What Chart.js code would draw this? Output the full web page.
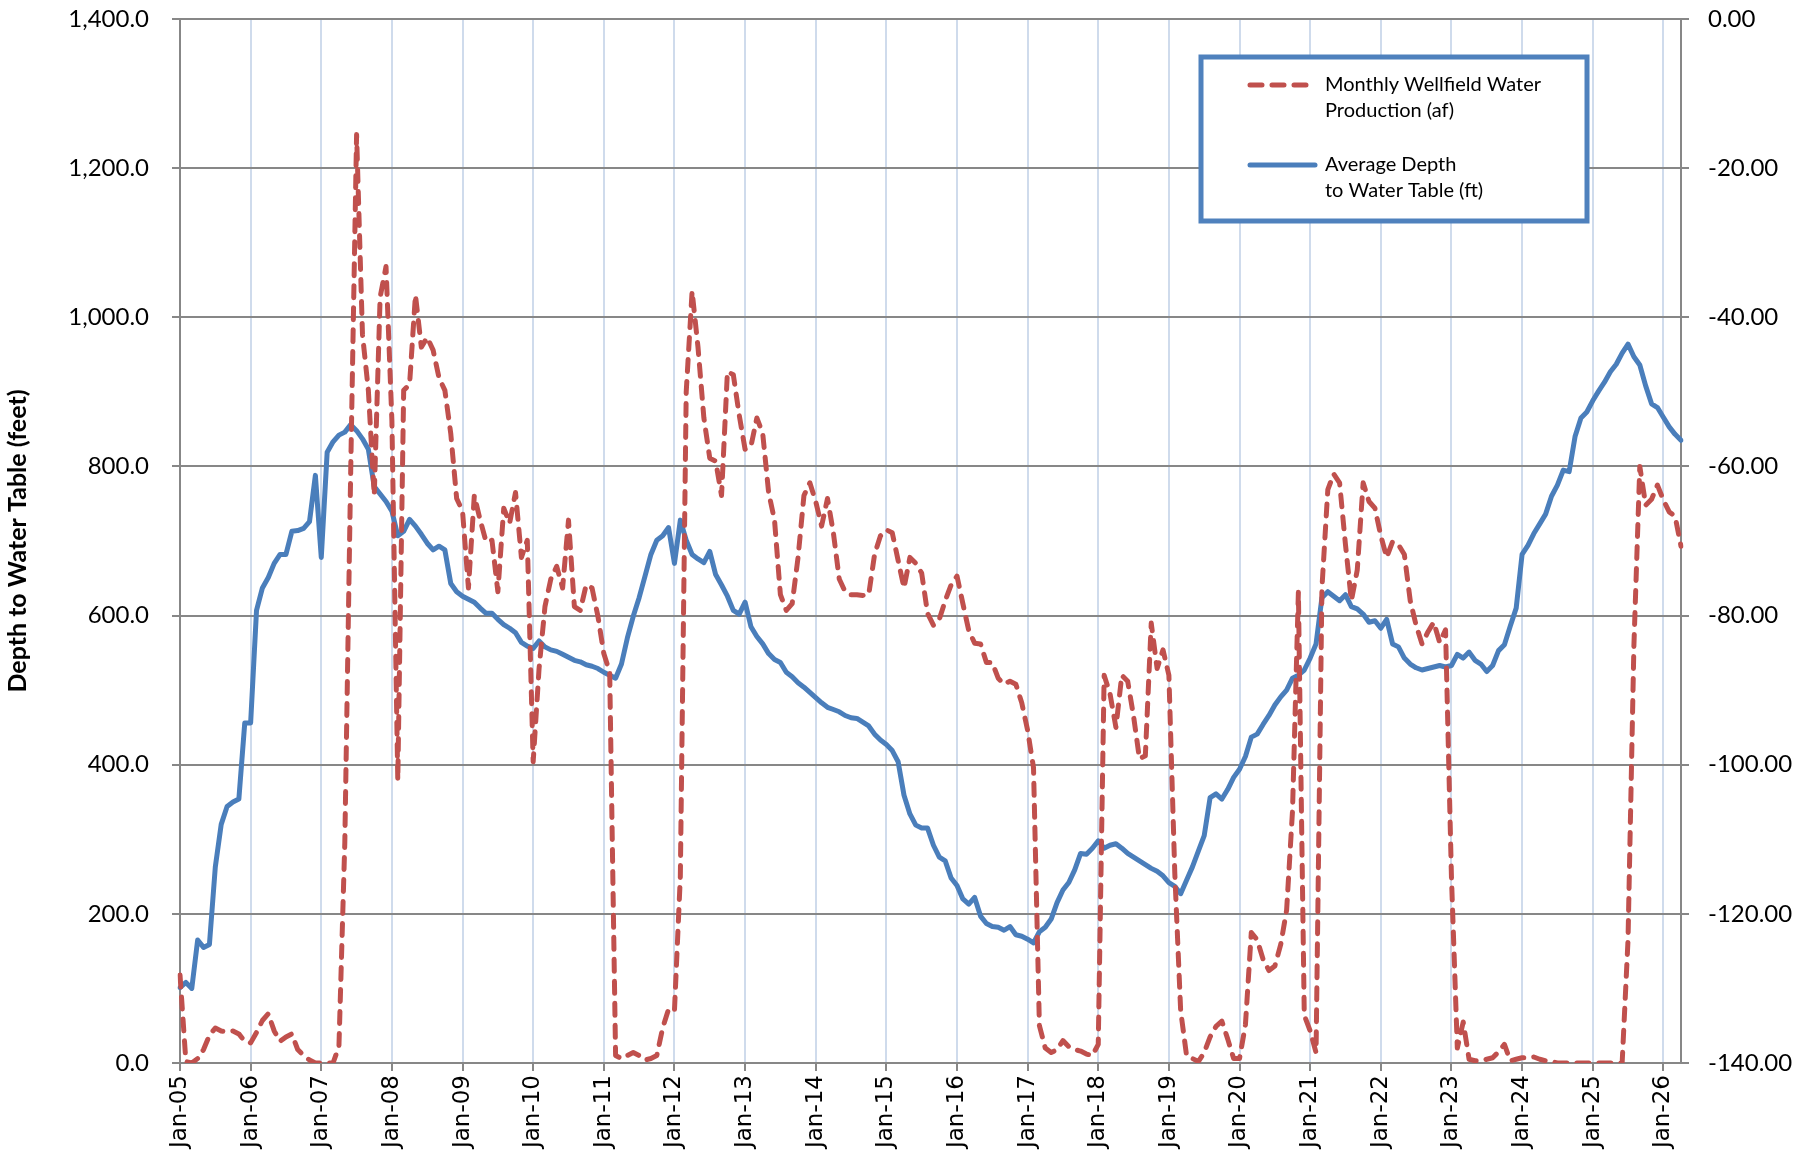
<!DOCTYPE html>
<html>
<head>
<meta charset="utf-8">
<title>Wellfield Production and Depth to Water Table</title>
<script src="https://cdn.jsdelivr.net/npm/chart.js@4.4.1/dist/chart.umd.min.js"></script>
<style>
    html, body { margin: 0; padding: 0; background: #fff; }
    #wrap { width: 1814px; height: 1155px; }
</style>
</head>
<body>
<div id="wrap"><canvas id="wellChart" width="1814" height="1155"></canvas></div>
<script>
const months = ['Jan', 'Feb', 'Mar', 'Apr', 'May', 'Jun', 'Jul', 'Aug', 'Sep', 'Oct', 'Nov', 'Dec'];
const years = ['05', '06', '07', '08', '09', '10', '11', '12', '13', '14', '15',
               '16', '17', '18', '19', '20', '21', '22', '23', '24', '25', '26'];
const lastCategory = 'Apr-26';

// monthly production (af), one row per year
const production = [
    118, 2, 0, 6, 18, 37, 47, 43, 42, 43, 39, 29,            // 2005
    27, 41, 57, 66, 43, 29, 35, 39, 18, 10, 4, 0,            // 2006
    0, 0, 0, 22, 296, 794, 1245, 977, 902, 761, 1027, 1068,  // 2007
    861, 379, 902, 910, 1030, 960, 973, 956, 919, 902, 844, 757,
    740, 637, 761, 728, 699, 701, 632, 744, 724, 765, 678, 701,
    404, 529, 612, 649, 666, 637, 728, 612, 607, 641, 637, 599, // 2010
    549, 524, 10, 6, 10, 14, 10, 4, 6, 10, 47, 72,
    70, 250, 900, 1035, 960, 865, 811, 807, 761, 927, 923, 869,
    823, 827, 865, 844, 765, 728, 628, 607, 616, 678, 761, 778,
    753, 720, 757, 711, 649, 632, 628, 628, 627, 628, 682, 707,
    715, 711, 674, 637, 678, 670, 657, 603, 587, 595, 620, 641, // 2015
    653, 616, 580, 563, 562, 537, 537, 516, 508, 512, 508, 483,
    446, 396, 50, 20, 14, 18, 30, 22, 18, 16, 12, 10,
    25, 520, 495, 450, 520, 512, 465, 408, 412, 590, 529, 554,
    520, 255, 70, 10, 6, 2, 14, 35, 49, 56, 32, 6,
    6, 51, 175, 165, 139, 124, 130, 159, 205, 338, 632, 64,     // 2020
    43, 14, 637, 769, 790, 778, 695, 620, 661, 778, 753, 744,
    707, 678, 699, 695, 682, 620, 587, 562, 578, 591, 564, 581,
    250, 20, 55, 5, 3, 3, 5, 7, 15, 25, 3, 5,
    7, 7, 8, 5, 3, 2, 0, 0, 0, 0, 0, 0,
    0, 0, 0, 0, 0, 0, 165, 560, 800, 748, 756, 775,           // 2025
    755, 739, 733, 693
];

// average depth to water table (ft)
const depth = [
    -129.9, -129.2, -130.0, -123.5, -124.5, -124.1, -113.7, -108.0, -105.6, -105.0, -104.6, -94.4, // 2005
    -94.4, -79.3, -76.3, -74.9, -73.0, -71.8, -71.8, -68.7, -68.6, -68.3, -67.4, -61.2,
    -72.2, -58.1, -56.7, -55.8, -55.4, -54.4, -55.2, -56.3, -57.7, -62.7, -63.7, -64.7,
    -66.0, -69.3, -68.7, -67.1, -68.0, -69.1, -70.3, -71.2, -70.7, -71.2, -75.7, -76.8,
    -77.4, -77.8, -78.2, -79.0, -79.7, -79.7, -80.5, -81.2, -81.7, -82.3, -83.6, -84.1,
    -84.4, -83.4, -84.2, -84.6, -84.8, -85.2, -85.6, -86.0, -86.2, -86.6, -86.8, -87.1,     // 2010
    -87.6, -88.0, -88.4, -86.5, -83.0, -80.1, -77.6, -74.7, -71.8, -69.9, -69.3, -68.2,
    -73.0, -67.2, -69.9, -71.8, -72.4, -72.9, -71.4, -74.5, -75.9, -77.4, -79.3, -79.8,
    -78.2, -81.5, -82.8, -83.8, -85.1, -85.9, -86.3, -87.6, -88.2, -89.0, -89.6, -90.3,
    -91.0, -91.7, -92.3, -92.6, -92.9, -93.4, -93.7, -93.8, -94.3, -94.8, -95.9, -96.7,
    -97.3, -98.1, -99.6, -104.1, -106.6, -108.1, -108.5, -108.5, -110.8, -112.4, -112.9, -115.2, // 2015
    -116.2, -118.0, -118.7, -117.8, -120.3, -121.3, -121.7, -121.8, -122.2, -121.7, -122.8, -123.0,
    -123.4, -123.9, -122.4, -121.8, -120.7, -118.5, -116.8, -115.8, -114.1, -111.9, -112.0, -111.2,
    -110.2, -111.2, -110.8, -110.6, -111.2, -111.9, -112.4, -112.9, -113.4, -113.9, -114.3, -114.9,
    -115.8, -116.3, -117.3, -115.5, -113.7, -111.6, -109.5, -104.4, -103.9, -104.6, -103.3, -101.7,
    -100.6, -98.9, -96.3, -95.9, -94.6, -93.4, -92.0, -90.9, -90.0, -88.4, -88.0, -87.3,    // 2020
    -85.7, -83.8, -77.6, -76.8, -77.4, -78.0, -77.2, -78.8, -79.1, -79.8, -80.9, -80.7,
    -81.7, -80.5, -83.8, -84.2, -85.7, -86.5, -87.0, -87.3, -87.1, -86.9, -86.7, -86.9,
    -86.7, -85.2, -85.7, -84.9, -86.0, -86.5, -87.5, -86.7, -84.7, -83.9, -81.4, -79.0,
    -71.8, -70.6, -69.0, -67.7, -66.4, -64.0, -62.5, -60.5, -60.7, -56.0, -53.5, -52.7,
    -51.2, -49.9, -48.7, -47.3, -46.3, -44.8, -43.6, -45.3, -46.4, -49.2, -51.6, -52.1,     // 2025
    -53.4, -54.7, -55.7, -56.5
];

const legendLines = [
    ['Monthly Wellfield Water', 'Production (af)'],
    ['Average Depth', 'to Water Table (ft)']
];

// month categories Jan-05 ... Apr-26
const categories = [];
outer:
for (const yy of years) {
    for (const mm of months) {
        categories.push(mm + '-' + yy);
        if (mm + '-' + yy === lastCategory) break outer;
    }
}

const axisGray = '#878787';
const redLine = '#c0504d';
const blueLine = '#4a7ebb';

// legend box drawn inside the plot like the Excel one
const boxLegend = {
    id: 'boxLegend',
    afterDatasetsDraw(chart) {
        const ctx = chart.ctx;
        const bx = 1201, by = 57, bw = 386, bh = 164;
        ctx.save();
        ctx.fillStyle = '#fff';
        ctx.fillRect(bx, by, bw, bh);
        ctx.lineWidth = 5;
        ctx.strokeStyle = '#4f81bd';
        ctx.strokeRect(bx, by, bw, bh);

        chart.data.datasets.forEach((ds, i) => {
            const ly = by + 28 + i * 80;
            ctx.beginPath();
            ctx.setLineDash(ds.borderDash || []);
            ctx.lineCap = 'round';
            ctx.lineWidth = ds.borderWidth;
            ctx.strokeStyle = ds.borderColor;
            ctx.moveTo(bx + 49, ly);
            ctx.lineTo(bx + 114, ly);
            ctx.stroke();
            ctx.setLineDash([]);

            ctx.fillStyle = '#000';
            ctx.font = '20px Lato';
            ctx.textBaseline = 'middle';
            ctx.textAlign = 'left';
            legendLines[i].forEach((t, k) => ctx.fillText(t, bx + 124, ly + k * 26));
        });
        ctx.restore();
    }
};

const ctx = document.getElementById('wellChart').getContext('2d');

new Chart(ctx, {
    type: 'line',
    data: {
        labels: categories,
        datasets: [{
            label: 'Monthly Wellfield Water Production (af)',
            data: production,
            yAxisID: 'y',
            borderColor: redLine,
            borderWidth: 5,
            borderDash: [12, 10],
            borderCapStyle: 'round',
            borderJoinStyle: 'round',
            pointRadius: 0,
            tension: 0,
            fill: false,
        }, {
            label: 'Average Depth to Water Table (ft)',
            data: depth,
            yAxisID: 'y1',
            borderColor: blueLine,
            borderWidth: 5,
            borderCapStyle: 'round',
            borderJoinStyle: 'round',
            pointRadius: 0,
            tension: 0,
            fill: false,
        }]
    },
    options: {
        responsive: false,
        animation: false,
        layout: {
            padding: { top: 19, right: 0, bottom: 0, left: 0 }
        },
        plugins: {
            legend: { display: false },
            tooltip: { enabled: false }
        },
        scales: {
            x: {
                type: 'category',
                offset: false,
                grid: {
                    color: '#cfdbec',
                    lineWidth: 2,
                    tickLength: 8,
                    tickColor: axisGray
                },
                border: { color: axisGray, width: 2 },
                ticks: {
                    autoSkip: false,
                    minRotation: 90,
                    maxRotation: 90,
                    padding: 4,
                    color: '#000',
                    font: { family: 'DejaVu Sans', size: 23 },
                    callback: function (value, index) {
                        // only January gets a label and a grid line
                        return index % 12 === 0 ? this.getLabelForValue(value) : null;
                    }
                },
                afterFit: scale => { scale.height = 92; }
            },
            y: {
                position: 'left',
                min: 0,
                max: 1400,
                grid: { color: axisGray, lineWidth: 2, tickLength: 8 },
                border: { color: axisGray, width: 2 },
                ticks: {
                    stepSize: 200,
                    padding: 23,
                    color: '#000',
                    font: { family: 'Lato', size: 24 },
                    callback: v => v.toLocaleString('en-US', { minimumFractionDigits: 1, maximumFractionDigits: 1 })
                },
                title: {
                    display: true,
                    text: 'Depth to Water Table (feet)',
                    color: '#000',
                    font: { family: 'Lato', size: 25, weight: 'bold' },
                    padding: { top: 3, bottom: 0 }
                },
                afterFit: scale => {
                    scale.width = 180;
                    scale.paddingTop = 0;
                    scale.paddingBottom = 0;
                }
            },
            y1: {
                position: 'right',
                min: -140,
                max: 0,
                grid: { drawOnChartArea: false, color: axisGray, lineWidth: 2, tickLength: 8 },
                border: { color: axisGray, width: 2 },
                ticks: {
                    stepSize: 20,
                    padding: 19,
                    color: '#000',
                    font: { family: 'Lato', size: 24 },
                    callback: v => v.toFixed(2)
                },
                afterFit: scale => {
                    scale.width = 133;
                    scale.paddingTop = 0;
                    scale.paddingBottom = 0;
                }
            }
        }
    },
    plugins: [boxLegend]
});
</script>
</body>
</html>
